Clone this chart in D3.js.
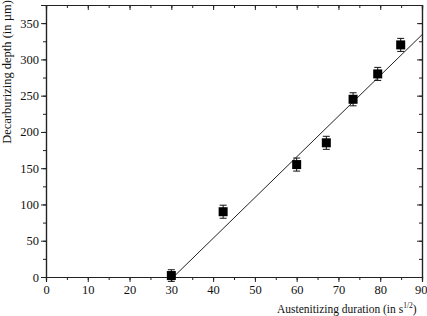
<!DOCTYPE html>
<html><head><meta charset="utf-8">
<script src="https://cdn.jsdelivr.net/npm/d3@7"></script>
<style>body{margin:0;background:#fff}svg{display:block}</style>
</head><body>
<script>
const durations = [30, 42.4, 60, 67.1, 73.5, 79.4, 84.9];
const depths = [2, 90, 155, 185, 245, 280, 320];
const errors = [8, 9, 9, 9, 9, 9, 9];
const fitLine = [[30.5, 0], [90, 334]];
const xTicks = [0,10,20,30,40,50,60,70,80,90];
const yTicks = [0,50,100,150,200,250,300,350];

const FF="'Liberation Serif','Times New Roman',Times,serif";
const W=427,H=316, m={l:46,r:5,t:5,b:39};
const svg=d3.select("body").append("svg").attr("width",W).attr("height",H).attr("font-family",FF);
const x=d3.scaleLinear().domain([0,90]).range([m.l,W-m.r]);
const y=d3.scaleLinear().domain([0,375]).range([H-m.b,m.t]);
const minorX=d3.range(0,91,5), minorY=d3.range(0,376,25);

svg.append("line").attr("x1",x(fitLine[0][0])).attr("y1",y(fitLine[0][1]))
  .attr("x2",x(fitLine[1][0])).attr("y2",y(fitLine[1][1])).attr("stroke","#222").attr("stroke-width",1);

const ax=(g,axis)=>g.call(axis).attr("font-family",FF).call(s=>s.select(".domain").attr("stroke","#222").attr("stroke-width",1.2)).call(s=>s.selectAll("line").attr("stroke","#222"));
const fs="12.5px";
svg.append("g").attr("transform",`translate(0,${y(0)})`).call(g=>ax(g,d3.axisBottom(x).tickValues(minorX).tickSize(3).tickFormat(""))).selectAll(".tick text").remove();
const xg=svg.append("g").attr("transform",`translate(0,${y(0)})`).call(g=>ax(g,d3.axisBottom(x).tickValues(xTicks).tickSize(5).tickPadding(3)));
xg.selectAll("text").attr("font-size",fs).attr("fill","#111");
xg.selectAll(".tick text").filter(d=>d===90).attr("text-anchor","end").attr("dx","5");
svg.append("g").attr("transform",`translate(${x(0)},0)`).call(g=>ax(g,d3.axisLeft(y).tickValues(minorY).tickSize(3).tickFormat(""))).selectAll(".tick text").remove();
svg.append("g").attr("transform",`translate(${x(0)},0)`).call(g=>ax(g,d3.axisLeft(y).tickValues(yTicks).tickSize(5).tickPadding(2))).selectAll("text").attr("font-size",fs).attr("fill","#111");
svg.append("g").attr("transform",`translate(0,${y(375)})`).call(g=>ax(g,d3.axisBottom(x).tickValues(minorX).tickSize(3).tickFormat("")));
svg.append("g").attr("transform",`translate(0,${y(375)})`).call(g=>ax(g,d3.axisBottom(x).tickValues(xTicks).tickSize(5).tickFormat("")));
svg.append("g").attr("transform",`translate(${x(90)},0)`).call(g=>ax(g,d3.axisLeft(y).tickValues(minorY).tickSize(3).tickFormat("")));
svg.append("g").attr("transform",`translate(${x(90)},0)`).call(g=>ax(g,d3.axisLeft(y).tickValues(yTicks).tickSize(5).tickFormat("")));

const pts=durations.map((d,i)=>({x:d,y:depths[i],e:errors[i]}));
const g=svg.append("g");
pts.forEach(p=>{
  const cx=x(p.x);
  g.append("line").attr("x1",cx).attr("x2",cx).attr("y1",y(p.y-p.e)).attr("y2",y(p.y+p.e)).attr("stroke","#111");
  [p.y-p.e,p.y+p.e].forEach(v=>g.append("line").attr("x1",cx-3.5).attr("x2",cx+3.5).attr("y1",y(v)).attr("y2",y(v)).attr("stroke","#111"));
  g.append("rect").attr("x",cx-4.5).attr("y",y(p.y)-4.5).attr("width",9).attr("height",9).attr("fill","#000");
});

const xl=svg.append("text").attr("x",277).attr("y",313).attr("font-size","11.5px").attr("fill","#111");
xl.append("tspan").text("Austenitizing duration (in s");
xl.append("tspan").attr("font-size","7.5px").attr("dy",-5).text("1/2");
xl.append("tspan").attr("dy",5).text(")");
svg.append("text").attr("transform","translate(11,72) rotate(-90)").attr("text-anchor","middle")
  .attr("font-size","12.5px").attr("fill","#111").text("Decarburizing depth (in µm)");
</script>
</body></html>
